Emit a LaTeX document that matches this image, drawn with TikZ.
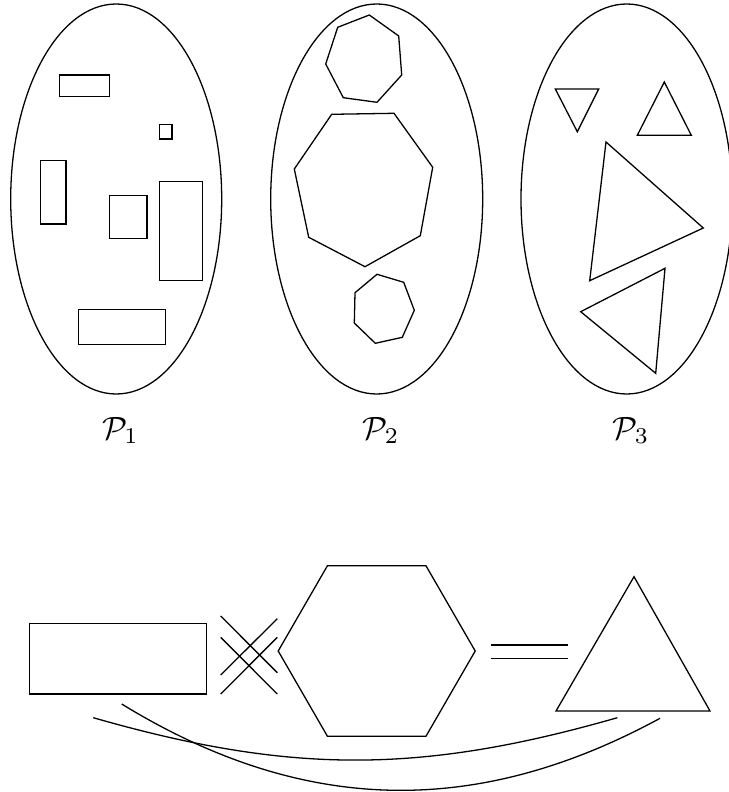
\documentclass[tikz,border=0pt]{standalone}
\usetikzlibrary{calc}
\begin{document}
\begin{tikzpicture}[x=0.31pt,y=-0.31pt,
  outl/.style={draw,black,line width=0.4pt,line join=miter},
  conn/.style={draw,black,line width=0.4pt},
  lbl/.style={anchor=base,inner sep=0pt}]
\useasboundingbox (0,0) rectangle (728,792);
% ---- group P1 ----
\draw[outl] (116.2,199) ellipse [x radius=105.5,y radius=195];
\draw[outl] (59.7,75) rectangle (109.7,96.3);
\draw[outl] (159.3,124.3) rectangle (172,139);
\draw[outl] (40.7,160.3) rectangle (66,224);
\draw[outl] (109.3,195.7) rectangle (147,238.3);
\draw[outl] (159.3,181.7) rectangle (202.7,280.7);
\draw[outl] (78.3,309.3) rectangle (165.3,344.3);
\node[lbl] (p1) at (120.5,439) {$\mathcal{P}_1$};
% ---- group P2 ----
\draw[outl] (376.7,199) ellipse [x radius=106,y radius=195];
\draw[outl] (369.3,15) -- (398.7,36) -- (401.7,75) -- (377,102.3) -- (343.3,97.7) -- (325.7,64) -- (337.7,27.3) -- cycle;
\draw[outl] (394,113.3) -- (432.7,167.3) -- (420.3,235.7) -- (365,266.7) -- (308.7,237.3) -- (294.3,169) -- (331.7,114.3) -- cycle;
\draw[outl] (377,274.3) -- (403.7,282.3) -- (414.3,310.3) -- (402.3,337.3) -- (375.3,343.3) -- (354.3,323) -- (355,292.7) -- cycle;
\node[lbl] (p2) at (381,439) {$\mathcal{P}_2$};
% ---- group P3 ----
\draw[outl] (626.7,199) ellipse [x radius=105.7,y radius=195];
\draw[outl] (555.3,89) -- (598.7,89) -- (577.3,131.7) -- cycle;
\draw[outl] (664.3,82) -- (691.3,135.3) -- (637.3,135.3) -- cycle;
\draw[outl] (606,142) -- (703.3,228) -- (589.7,280.7) -- cycle;
\draw[outl] (665,268.3) -- (655.7,373.3) -- (580.7,311.7) -- cycle;
\node[lbl] (p3) at (631,439) {$\mathcal{P}_3$};
% ---- bottom row ----
\draw[outl] (29.3,623.3) rectangle (206.3,694);
\coordinate (hex) at (376.7,651);
\draw[outl] ($(hex)+(98.5,0)$) -- ($(hex)+(49.25,-85.3)$) -- ($(hex)+(-49.25,-85.3)$) -- ($(hex)+(-98.5,0)$) -- ($(hex)+(-49.25,85.3)$) -- ($(hex)+(49.25,85.3)$) -- cycle;
\draw[outl] (634,576.7) -- (710,711) -- (556,711) -- cycle;
% cross between rectangle and hexagon
\coordinate (xa1) at (220.7,616);   \coordinate (xa2) at (277.3,672.7);
\coordinate (xb1) at (220.7,637.3); \coordinate (xb2) at (277.3,694);
\coordinate (xc1) at (220.7,675);   \coordinate (xc2) at (277.3,618.7);
\coordinate (xd1) at (220.7,694);   \coordinate (xd2) at (277.3,637.3);
\draw[conn] (xa1) -- (xa2);
\draw[conn] (xb1) -- (xb2);
\draw[conn] (xc1) -- (xc2);
\draw[conn] (xd1) -- (xd2);
% equals between hexagon and triangle
\coordinate (ea1) at (490.7,645);   \coordinate (ea2) at (567.7,645);
\coordinate (eb1) at (490.7,658.7); \coordinate (eb2) at (567.7,658.7);
\draw[conn] (ea1) -- (ea2);
\draw[conn] (eb1) -- (eb2);
% curves from rectangle to triangle
\coordinate (ca1) at (93.3,717.7);  \coordinate (ca2) at (617.3,717.7);
\coordinate (cb1) at (121.7,704);   \coordinate (cb2) at (660,718.3);
\draw[conn] (ca1) .. controls (290.3,774.2) and (420.3,774.2) .. (ca2);
\draw[conn] (cb1) .. controls (301.4,814.1) and (474.8,818.9) .. (cb2);
\end{tikzpicture}
\end{document}
